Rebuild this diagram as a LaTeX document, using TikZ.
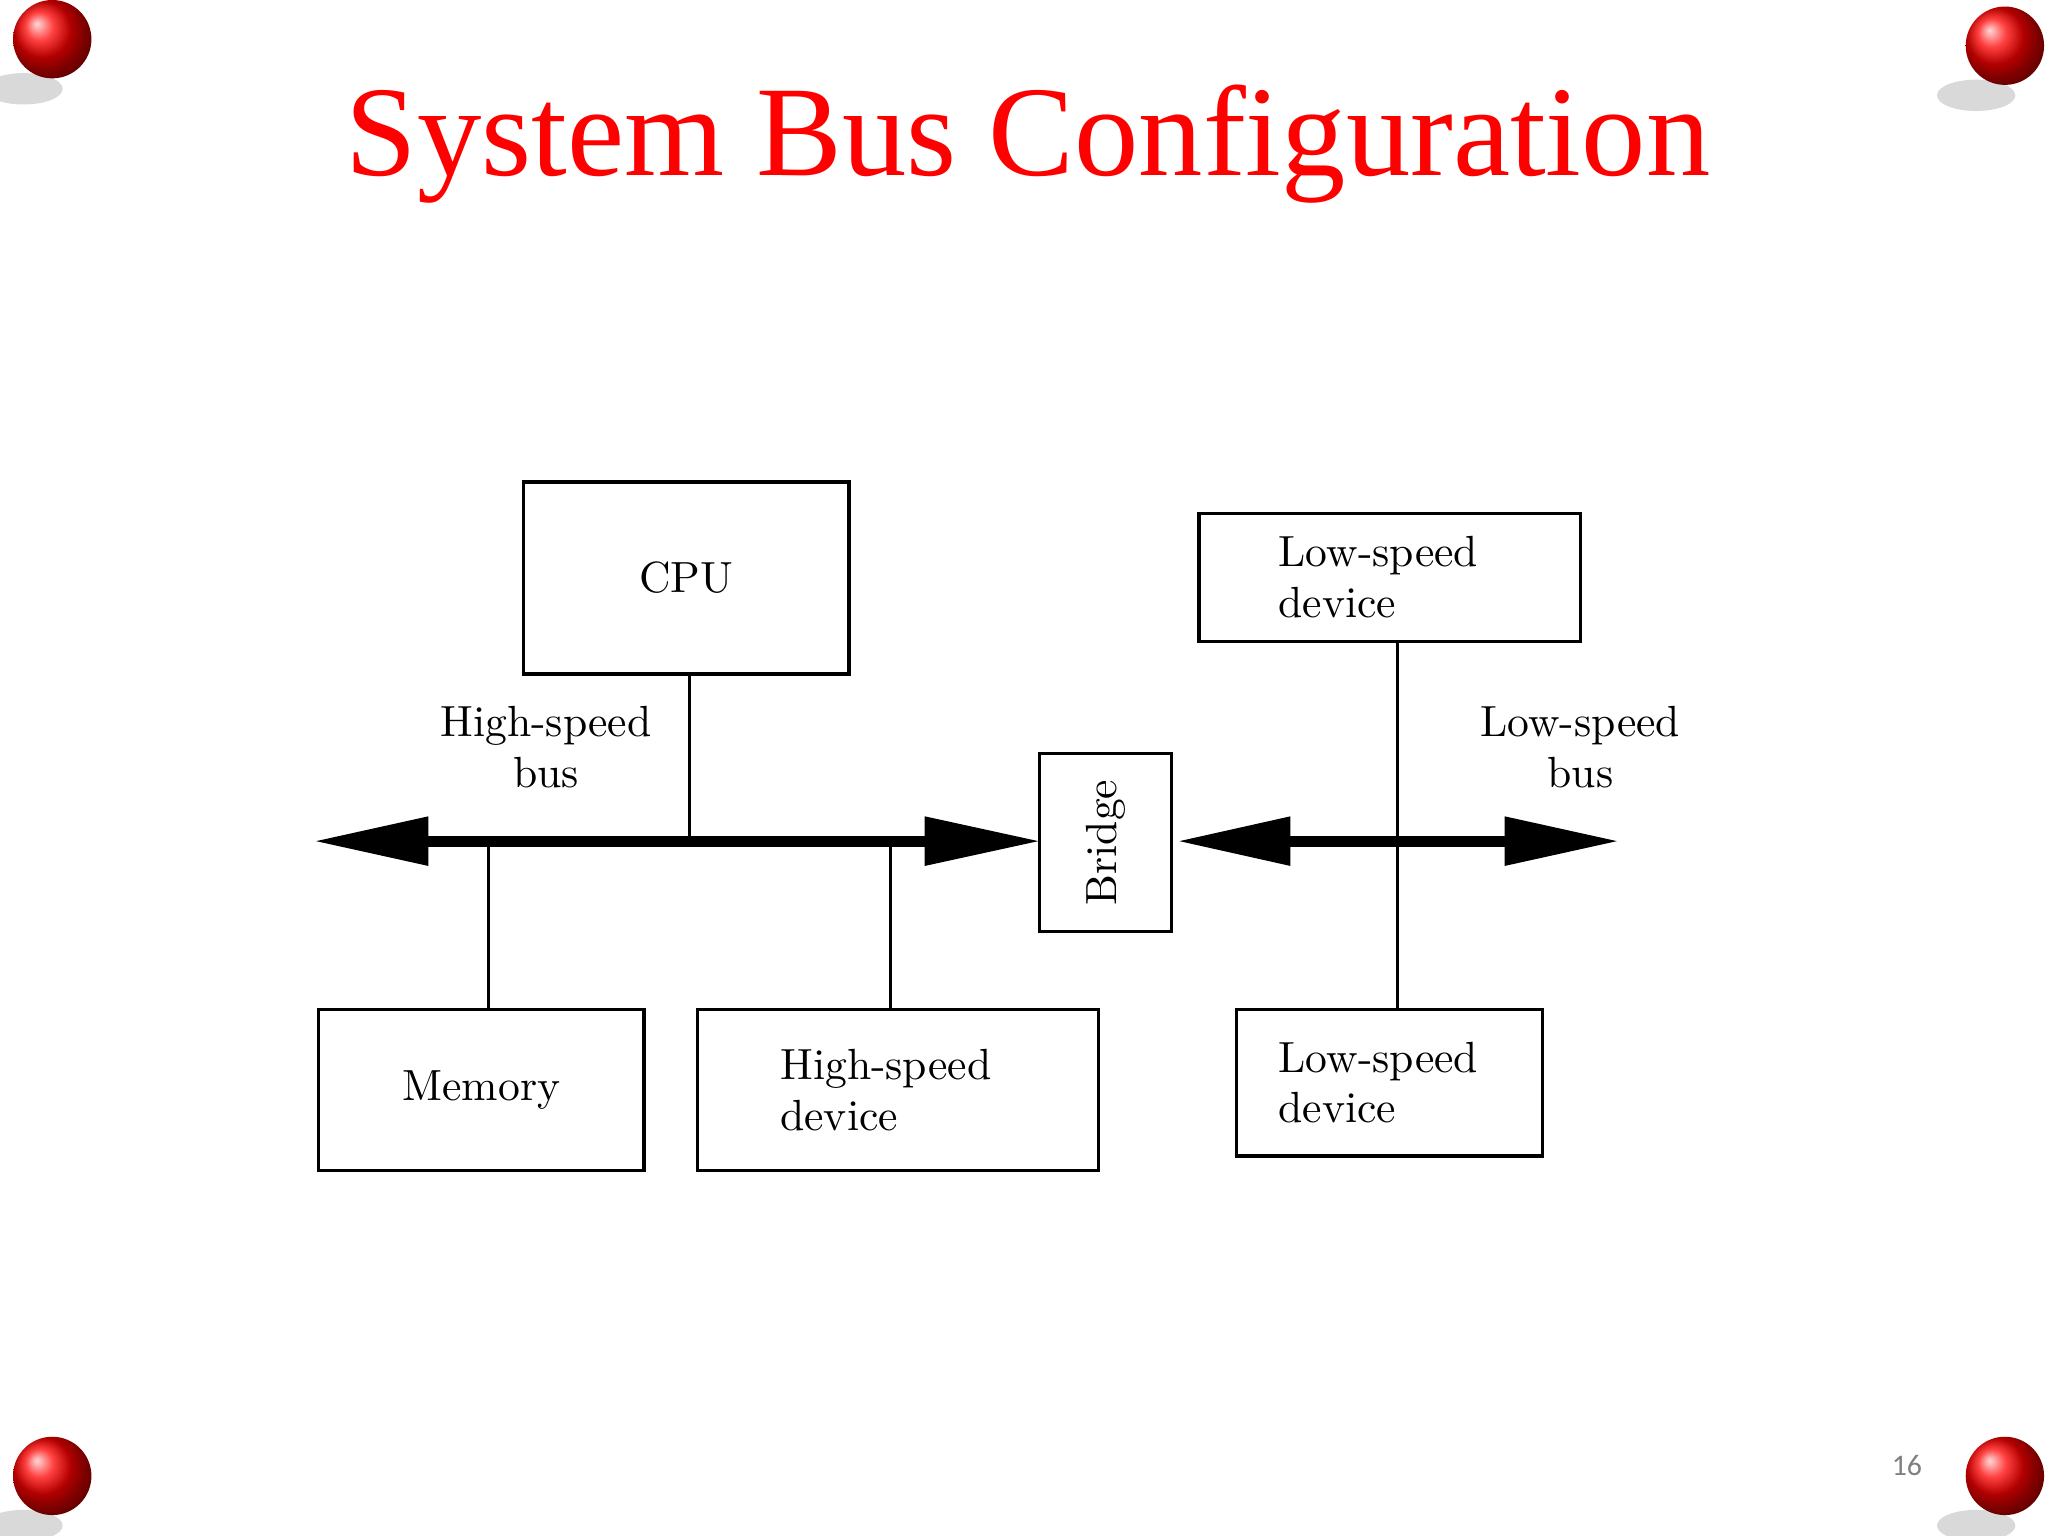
\documentclass[tikz,border=0pt]{standalone}
\usepackage{fontspec}
\newfontfamily\titlefont{Liberation Serif}
\newfontfamily\pgfont{Carlito}
\begin{document}
\begin{tikzpicture}[x=0.01cm,y=-0.01cm,
  box/.style={draw,line width=0.7pt,inner sep=0pt,font=\fontsize{9.5}{11}\selectfont},
  conn/.style={line width=0.7pt},
  bus/.style={line width=2.4pt},
  head/.style={fill=black},
  lbl/.style={align=center,font=\fontsize{9.5}{11}\selectfont},
  pin/.style={ball color=red}]
\useasboundingbox (0,0) rectangle (1568,1176);
% pins
\foreach \px/\py in {40/30,1535/35,40/1130,1535/1130}{
  \fill[gray!30] (\px-22,\py+38) ellipse (30 and 12);
  \shade[pin] (\px,\py) circle (30);
}
\node[text=red,font=\titlefont\fontsize{28}{31}\selectfont] (title) at (787,110) {System Bus Configuration};
\node[text=gray,font=\pgfont\fontsize{6.5}{8}\selectfont] (pg) at (1460,1122) {16};
% boxes
\node[box,minimum width=2.49cm,minimum height=1.47cm] (cpu) at (525.5,442.5) {CPU};
\node[box,minimum width=2.92cm,minimum height=0.98cm,align=left,text width=1.7cm] (ls1) at (1064,442) {Low-speed\\device};
\node[box,rotate=90,minimum width=1.36cm,minimum height=1.01cm] (br) at (846.5,645) {Bridge};
\node[box,minimum width=2.49cm,minimum height=1.23cm] (mem) at (368.5,834.5) {Memory};
\node[box,minimum width=3.07cm,minimum height=1.23cm,align=left,text width=1.8cm] (hs) at (687.5,834.5) {High-speed\\device};
\node[box,minimum width=2.34cm,minimum height=1.12cm,align=left,text width=1.7cm] (ls2) at (1064,829) {Low-speed\\device};
\node[lbl] (hsb) at (418,572) {High-speed\\bus};
\node[lbl] (lsb) at (1210,572) {Low-speed\\bus};
% buses
\coordinate (a1) at (328,644); \coordinate (a2) at (708,644);
\coordinate (b1) at (988,644); \coordinate (b2) at (1152,644);
\draw[bus] (a1) -- (a2);
\draw[bus] (b1) -- (b2);
\fill[head] (242,644) -- (328,625) -- (328,663) -- cycle;
\fill[head] (795,644) -- (708,625) -- (708,663) -- cycle;
\fill[head] (903,644) -- (988,625) -- (988,663) -- cycle;
\fill[head] (1238,644) -- (1152,625) -- (1152,663) -- cycle;
% connectors
\coordinate (cb) at (528,644); \coordinate (mb) at (374,644); \coordinate (hb) at (682,644);
\draw[conn] (cpu.south -| cb) -- (cb);
\draw[conn] (mb) -- (mem.north -| mb);
\draw[conn] (hb) -- (hs.north -| hb);
\coordinate (lx) at (1070,644);
\draw[conn] (ls1.south -| lx) -- (ls2.north -| lx);
\end{tikzpicture}
\end{document}
